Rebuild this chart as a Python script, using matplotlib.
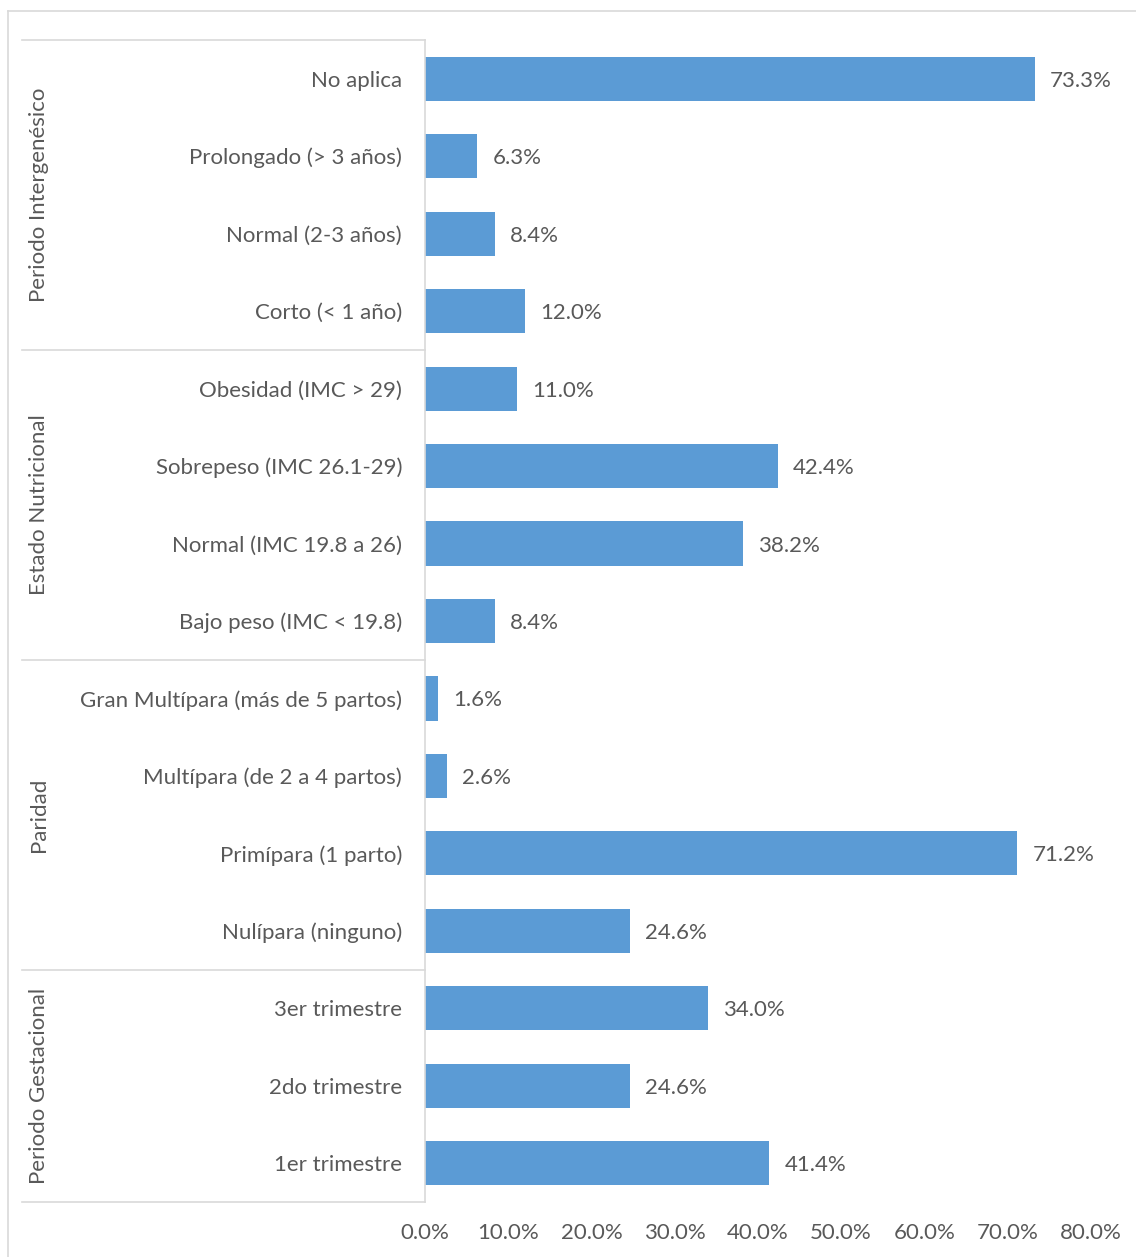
import matplotlib
matplotlib.use("Agg")
import matplotlib.pyplot as plt
import matplotlib.transforms as mtransforms
from matplotlib.lines import Line2D
import numpy as np

plt.rcParams['font.family'] = ['Lato', 'DejaVu Sans']

# Categories listed from top to bottom
categories = [
    "No aplica", "Prolongado (> 3 años)", "Normal (2-3 años)", "Corto (< 1 año)",
    "Obesidad (IMC > 29)", "Sobrepeso (IMC 26.1-29)", "Normal (IMC 19.8 a 26)", "Bajo peso (IMC < 19.8)",
    "Gran Multípara (más de 5 partos)", "Multípara (de 2 a 4 partos)", "Primípara (1 parto)", "Nulípara (ninguno)",
    "3er trimestre", "2do trimestre", "1er trimestre",
]
values = [73.3, 6.3, 8.4, 12.0,
          11.0, 42.4, 38.2, 8.4,
          1.6, 2.6, 71.2, 24.6,
          34.0, 24.6, 41.4]
groups = ["Periodo Intergenésico", "Estado Nutricional", "Paridad", "Periodo Gestacional"]
group_sizes = [4, 4, 4, 3]
x_ticks = [0, 10, 20, 30, 40, 50, 60, 70, 80]

BAR = "#5B9BD5"
TEXT = "#595959"
GRID = "#D9D9D9"
FS = 16
W, H = 1136, 1257

fig = plt.figure(figsize=(W / 100, H / 100), dpi=100)
ax = fig.add_axes([425 / W, 1 - 1202 / H, (1090.6 - 425) / W, (1202 - 40) / H])

y = np.arange(len(categories))
ax.barh(y, values, height=0.57, color=BAR)
ax.set_ylim(len(categories) - 0.5, -0.5)
ax.set_xlim(0, 80)

# data labels
for yi, v in zip(y, values):
    ax.annotate(f"{v:.1f}%", xy=(v, yi), xytext=(11, 0), textcoords="offset points",
                ha="left", va="center_baseline", fontsize=FS, color=TEXT)

ax.set_yticks(y)
ax.set_yticklabels(categories, fontsize=FS, color=TEXT, va="center_baseline")
ax.tick_params(axis="y", length=0, pad=16.5)
ax.set_xticks(x_ticks)
ax.set_xticklabels([f"{t:.1f}%" for t in x_ticks], fontsize=FS, color=TEXT)
ax.tick_params(axis="x", length=0, pad=15)

for s in ["top", "right", "bottom"]:
    ax.spines[s].set_visible(False)
ax.spines["left"].set_color(GRID)
ax.spines["left"].set_linewidth(1.2)

# group separators and group labels on the category axis
trans = mtransforms.blended_transform_factory(fig.transFigure, ax.transData)
bounds = [-0.5]
for n in group_sizes:
    bounds.append(bounds[-1] + n)
for b in bounds:
    ax.add_line(Line2D([22 / W, 425 / W], [b, b], transform=trans, color=GRID,
                       linewidth=1.2, clip_on=False))
for g, lo, hi in zip(groups, bounds[:-1], bounds[1:]):
    ax.text(39 / W, (lo + hi) / 2, g, transform=trans, rotation=90, ha="center",
            va="center", fontsize=FS, color=TEXT)

# outer chart border
fig.add_artist(Line2D([8 / W, 8 / W], [0, 1 - 11 / H], transform=fig.transFigure,
                      color=GRID, linewidth=1.2))
fig.add_artist(Line2D([8 / W, 1], [1 - 11 / H, 1 - 11 / H], transform=fig.transFigure,
                      color=GRID, linewidth=1.2))

fig.savefig("out.png", dpi=100, facecolor="white")
